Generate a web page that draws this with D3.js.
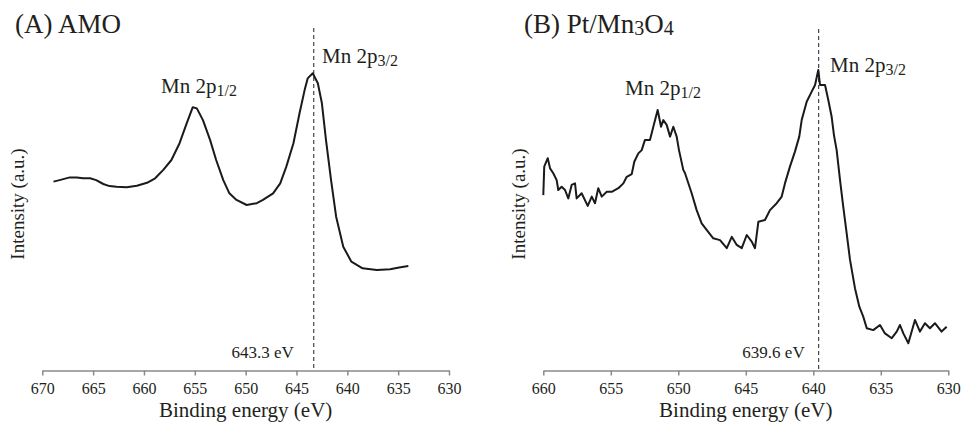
<!DOCTYPE html>
<html>
<head>
<meta charset="utf-8">
<script src="https://cdn.jsdelivr.net/npm/d3@7"></script>
<style>
  body { margin: 0; background: #fff; }
  text { font-family: "Liberation Serif", "Times New Roman", serif; fill: #231f20; }
</style>
</head>
<body>
<script>
// panel A : AMO, binding energy (eV) vs intensity (a.u.)
const energyA = [668.9, 668.3, 667.3, 666.6, 666.0, 665.3, 664.7, 664.0, 663.4, 662.7, 661.7, 660.7,
  659.7, 658.9, 658.1, 657.3, 656.5, 655.8, 655.2, 654.8, 654.2, 653.5, 652.9, 652.2, 651.6, 650.9,
  649.9, 648.9, 648.3, 647.3, 646.6, 646.0, 645.3, 644.7, 644.2, 643.9, 643.4, 642.9, 642.5, 642.1,
  641.6, 641.1, 640.4, 639.6, 638.5, 637.1, 635.8, 634.9, 634.0];
const intensityA = [62.8, 63.3, 64.2, 64.2, 63.9, 63.9, 63.3, 62.0, 61.3, 61.1, 60.9, 61.4,
  62.4, 63.9, 66.7, 70.0, 75.6, 82.2, 87.6, 87.2, 83.3, 76.7, 70.0, 63.3, 58.9, 56.7,
  55.0, 55.6, 56.7, 58.9, 62.2, 67.8, 75.6, 85.6, 93.3, 97.2, 98.9, 95.6, 88.9, 76.7,
  63.3, 51.1, 41.1, 36.1, 33.9, 33.3, 33.6, 34.2, 34.7];

// panel B : Pt/Mn3O4
const energyB = [660.0, 659.93, 659.67, 659.5, 659.26, 659.01, 658.89, 658.64, 658.39, 658.15, 657.9,
  657.65, 657.53, 657.16, 656.71, 656.41, 656.17, 655.93, 655.67, 655.3, 654.93, 654.44, 654.07,
  653.82, 653.45, 653.26, 652.96, 652.71, 652.47, 652.1, 651.85, 651.53, 651.28, 651.11, 650.86,
  650.61, 650.37, 650.12, 649.95, 649.63, 649.5, 649.01, 648.64, 648.27, 647.9, 647.41, 646.91,
  646.41, 646.04, 645.67, 645.3, 644.93, 644.56, 644.32, 644.07, 643.58, 643.21, 642.71, 642.34,
  642.1, 641.73, 641.36, 641.04, 640.86, 640.49, 640.12, 639.87, 639.63, 639.5, 639.13, 638.89,
  638.64, 638.47, 638.27, 638.02, 637.78, 637.53, 637.28, 636.91, 636.59, 636.3, 636.04, 635.56,
  635.06, 634.69, 634.19, 633.82, 633.58, 633.33, 632.96, 632.47, 632.1, 631.73, 631.36, 630.99,
  630.5, 630.12];
const intensityB = [58.3, 67.8, 70.6, 67.2, 65.6, 63.3, 60.0, 61.1, 60.0, 57.2, 61.7,
  62.2, 57.2, 58.9, 54.7, 57.8, 55.6, 60.6, 57.8, 59.4, 59.4, 60.6, 62.2,
  64.4, 65.3, 69.4, 72.2, 73.3, 76.7, 76.7, 81.1, 86.7, 81.1, 83.3, 81.7,
  77.8, 81.1, 77.8, 73.3, 66.7, 65.6, 58.9, 53.3, 48.9, 46.7, 43.9, 43.3,
  40.6, 44.4, 41.7, 40.6, 45.0, 42.8, 40.6, 49.4, 50.0, 53.3, 55.6, 57.8,
  62.2, 67.8, 72.8, 77.8, 83.3, 89.4, 92.8, 95.0, 100.0, 95.0, 95.0, 90.0,
  84.4, 78.3, 73.3, 63.3, 54.4, 45.6, 36.7, 27.2, 21.1, 17.8, 13.9, 13.3,
  15.0, 12.2, 10.6, 12.8, 15.0, 12.2, 8.9, 16.7, 12.8, 15.6, 13.9, 15.6,
  12.8, 14.4];

const ticksA = [670, 665, 660, 655, 650, 645, 640, 635, 630];
const ticksB = [660, 655, 650, 645, 640, 635, 630];
const peaksA = [643.3];
const peaksB = [639.6];

const W = 965, H = 429;
const axisY = 370.5;

const svg = d3.select("body").append("svg")
  .attr("width", W).attr("height", H);

const panels = [
  { title: "(A)\u2009AMO", tx: 15, domain: [670, 630], range: [42.3, 449], ticks: ticksA,
    energy: energyA, intensity: intensityA, peak: peaksA[0], ty: 33,
    p32: [322, 63], p12: [161, 93], evGap: 20, dashTop: 28 },
  { title: "(B) Pt/Mn", sub: ["3", "O", "4"], tx: 524, domain: [660, 630], range: [543.3, 948.3], ticks: ticksB,
    energy: energyB, intensity: intensityB, peak: peaksB[0], ty: 33,
    p32: [830, 72], p12: [625, 95], evGap: 14, dashTop: 29 }
];

const y = d3.scaleLinear().domain([0, 100]).range([370, 70]);

function peakLabel(g, xpos, ypos, subTxt) {
  const t = g.append("text").attr("x", xpos).attr("y", ypos).attr("font-size", 21);
  t.append("tspan").text("Mn 2p");
  t.append("tspan").attr("font-size", 16).attr("dy", 3).text(subTxt);
}

panels.forEach(function(p) {
  const x = d3.scaleLinear().domain(p.domain).range(p.range);
  const g = svg.append("g");

  // axis
  const ax = g.append("g")
    .attr("transform", "translate(0," + axisY + ")")
    .call(d3.axisBottom(x).tickValues(p.ticks).tickSize(5).tickPadding(7).tickSizeOuter(0)
      .tickFormat(d3.format("d")));
  ax.select(".domain").attr("stroke", "#8a8a8a").attr("stroke-width", 1.5);
  ax.selectAll(".tick line").attr("stroke", "#8a8a8a").attr("stroke-width", 1.5);
  ax.selectAll(".tick text").attr("font-size", 16).attr("fill", "#231f20");

  // dashed peak line
  g.append("line")
    .attr("x1", x(p.peak)).attr("x2", x(p.peak))
    .attr("y1", p.dashTop).attr("y2", axisY)
    .attr("stroke", "#231f20").attr("stroke-width", 1)
    .attr("stroke-dasharray", "4,3");

  g.append("text")
    .attr("x", x(p.peak) - p.evGap).attr("y", 358)
    .attr("text-anchor", "end").attr("font-size", 17)
    .text(p.peak.toFixed(1) + " eV");

  // spectrum
  const pts = p.energy.map(function(e, i) { return [e, p.intensity[i]]; });
  g.append("path")
    .datum(pts)
    .attr("fill", "none")
    .attr("stroke", "#1a1a1a")
    .attr("stroke-width", 2)
    .attr("stroke-linejoin", "round")
    .attr("d", d3.line().x(function(d) { return x(d[0]); }).y(function(d) { return y(d[1]); }));

  // titles and labels
  const tt = g.append("text").attr("x", p.tx).attr("y", p.ty).attr("font-size", 27);
  tt.append("tspan").text(p.title);
  if (p.sub) {
    tt.append("tspan").attr("font-size", 20).attr("dy", 2).text(p.sub[0]);
    tt.append("tspan").attr("font-size", 27).attr("dy", -2).text(p.sub[1]);
    tt.append("tspan").attr("font-size", 20).attr("dy", 2).text(p.sub[2]);
  }

  peakLabel(g, p.p32[0], p.p32[1], "3/2");
  peakLabel(g, p.p12[0], p.p12[1], "1/2");

  g.append("text")
    .attr("x", (p.range[0] + p.range[1]) / 2).attr("y", 417)
    .attr("text-anchor", "middle").attr("font-size", 21)
    .text("Binding energy (eV)");

  g.append("text")
    .attr("transform", "translate(" + (p.range[0] - 18) + ",204) rotate(-90)")
    .attr("text-anchor", "middle").attr("font-size", 19)
    .text("Intensity (a.u.)");
});
</script>
</body>
</html>
